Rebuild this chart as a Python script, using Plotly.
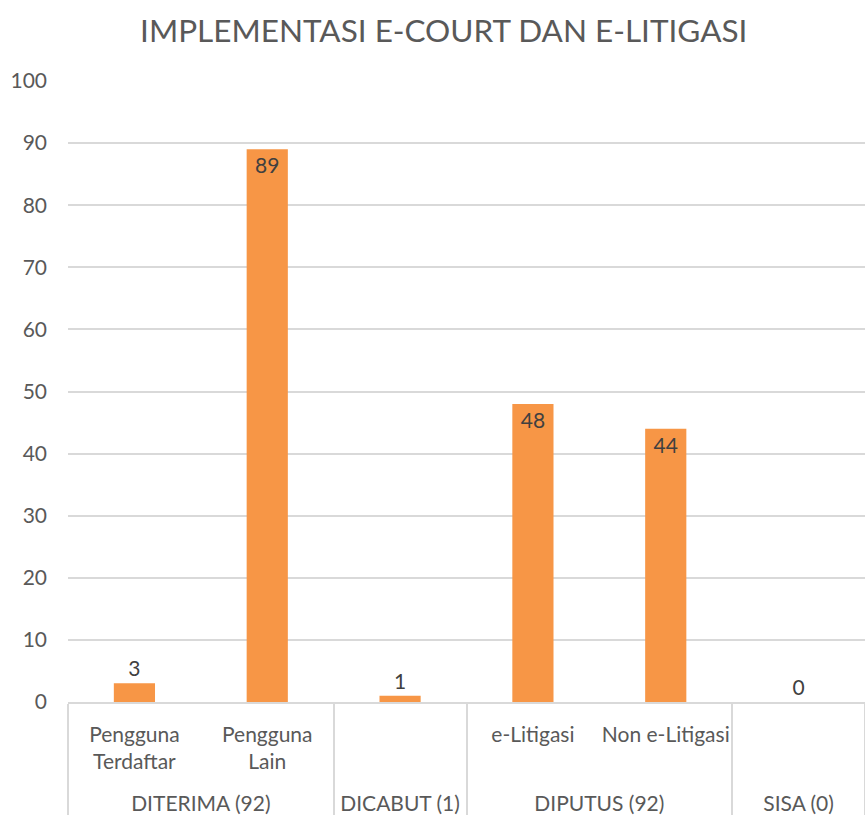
import plotly.graph_objects as go

groups = ["DITERIMA (92)", "DITERIMA (92)", "DICABUT (1)", "DIPUTUS (92)", "DIPUTUS (92)", "SISA (0)"]
items = ["Pengguna<br>Terdaftar", "Pengguna<br>Lain", " ", "e-Litigasi", "Non e-Litigasi", " "]
values = [3, 89, 1, 48, 44, 0]
value_labels = ["3", "89", "1", "48", "44", "0"]
positions = ["outside", "inside", "outside", "inside", "inside", "outside"]

FONT = "Lato"
GREY = "#595959"

# extra blank line under item labels to leave room before group labels
item_ticks = [s + "<br>&nbsp;" for s in items]

fig = go.Figure(go.Bar(
    x=[groups, item_ticks],
    y=values,
    text=value_labels,
    textposition=positions,
    insidetextanchor="end",
    textfont=dict(family=FONT, size=21, color="#404040"),
    outsidetextfont=dict(family=FONT, size=21, color="#404040"),
    insidetextfont=dict(family=FONT, size=21, color="#404040"),
    marker=dict(color="#F79646", line=dict(width=0)),
    width=0.31,
    cliponaxis=False,
))

fig.update_layout(
    width=865, height=824,
    margin=dict(l=68, r=0, t=81, b=122),
    paper_bgcolor="white", plot_bgcolor="white",
    title=dict(text="IMPLEMENTASI E-COURT DAN E-LITIGASI", x=0.513, xanchor="center",
               y=0.963, yanchor="middle",
               font=dict(family=FONT, size=31.5, color=GREY)),
    showlegend=False,
    uniformtext=dict(minsize=8, mode=False),
)
fig.update_yaxes(range=[0, 100], dtick=10, showgrid=True, gridcolor="#D9D9D9", gridwidth=1.5,
                 zeroline=False, showline=False, automargin=False,
                 tickfont=dict(family=FONT, size=21, color=GREY), ticks="", ticklabelstandoff=20)
fig.update_xaxes(showline=True, linecolor="#D9D9D9", linewidth=1.5, automargin=False,
                 tickfont=dict(family=FONT, size=21, color=GREY), tickangle=0,
                 ticklabelstandoff=13,
                 showdividers=True, dividercolor="#D9D9D9", dividerwidth=1.5,
                 ticks="", showgrid=False)

fig.write_html("out.html", config={"displayModeBar": False},
               post_script="document.body.style.margin='0';document.body.style.overflow='hidden';")
